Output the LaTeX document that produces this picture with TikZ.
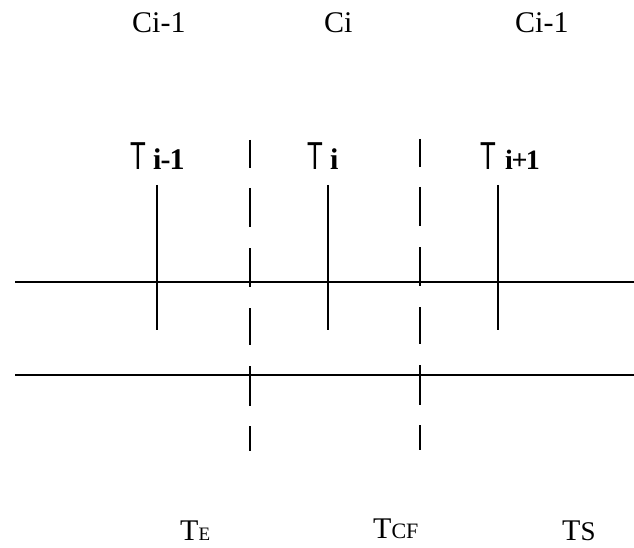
\documentclass[tikz,border=0pt]{standalone}
\usepackage{fontspec}
\setmainfont{Liberation Serif}
\newfontfamily\tsans{Liberation Sans}
\begin{document}
\begin{tikzpicture}[x=1pt,y=-1pt,
  lbl/.style={anchor=base west, inner sep=0pt, font=\fontsize{30}{36}\selectfont},
  tl/.style={anchor=base west, inner sep=0pt},
  hline/.style={line width=1.6pt, black},
  sline/.style={line width=1.6pt, black},
  dline/.style={line width=1.6pt, black,
    dash pattern=on 28pt off 20pt on 39pt off 21pt on 39pt off 21pt on 37pt off 21pt on 40pt off 20pt on 25pt off 100pt}
]
\useasboundingbox (0,0) rectangle (634,548);
% top labels
\node[lbl] (c1) at (132,33) {Ci-1};
\node[lbl] (c2) at (324,33) {Ci};
\node[lbl] (c3) at (515,33) {Ci-1};
% T labels
\newcommand{\thinT}{{\tsans\fontsize{39}{40}\selectfont\scalebox{0.66}[1]{T}}}
\node[tl] (ta) at (130,170) {\thinT};
\node[tl] (tas) at (153,170) {\bfseries\fontsize{30}{32}\selectfont i\kern-1pt-\kern-1pt1};
\node[tl] (tb) at (307,170) {\thinT};
\node[tl] (tbs) at (330,170) {\bfseries\fontsize{30}{32}\selectfont i};
\node[tl] (tc) at (480,170) {\thinT};
\node[tl] (tcs) at (505,170) {\bfseries\fontsize{28}{30}\selectfont i\kern-1.5pt+\kern-1.5pt1};
% horizontal lines
\coordinate (h1a) at (15,282); \coordinate (h1b) at (634,282);
\coordinate (h2a) at (15,375); \coordinate (h2b) at (634,375);
\draw[hline] (h1a) -- (h1b);
\draw[hline] (h2a) -- (h2b);
% solid verticals
\coordinate (s1a) at (157,185); \coordinate (s1b) at (157,330);
\coordinate (s2a) at (328,185); \coordinate (s2b) at (328,330);
\coordinate (s3a) at (498,185); \coordinate (s3b) at (498,330);
\draw[sline] (s1a) -- (s1b);
\draw[sline] (s2a) -- (s2b);
\draw[sline] (s3a) -- (s3b);
% dashed verticals
\coordinate (d1a) at (250,140); \coordinate (d1b) at (250,451);
\coordinate (d2a) at (420,139); \coordinate (d2b) at (420,450);
\draw[dline] (d1a) -- (d1b);
\draw[dline] (d2a) -- (d2b);
% bottom labels
\node[lbl] (te) at (180,540) {T{\fontsize{19}{22}\selectfont E}};
\node[lbl] (tcf) at (373,538) {T{\fontsize{22}{25}\selectfont CF}};
\node[lbl] (ts) at (562,540) {T{\fontsize{27}{30}\selectfont S}};
\end{tikzpicture}
\end{document}
